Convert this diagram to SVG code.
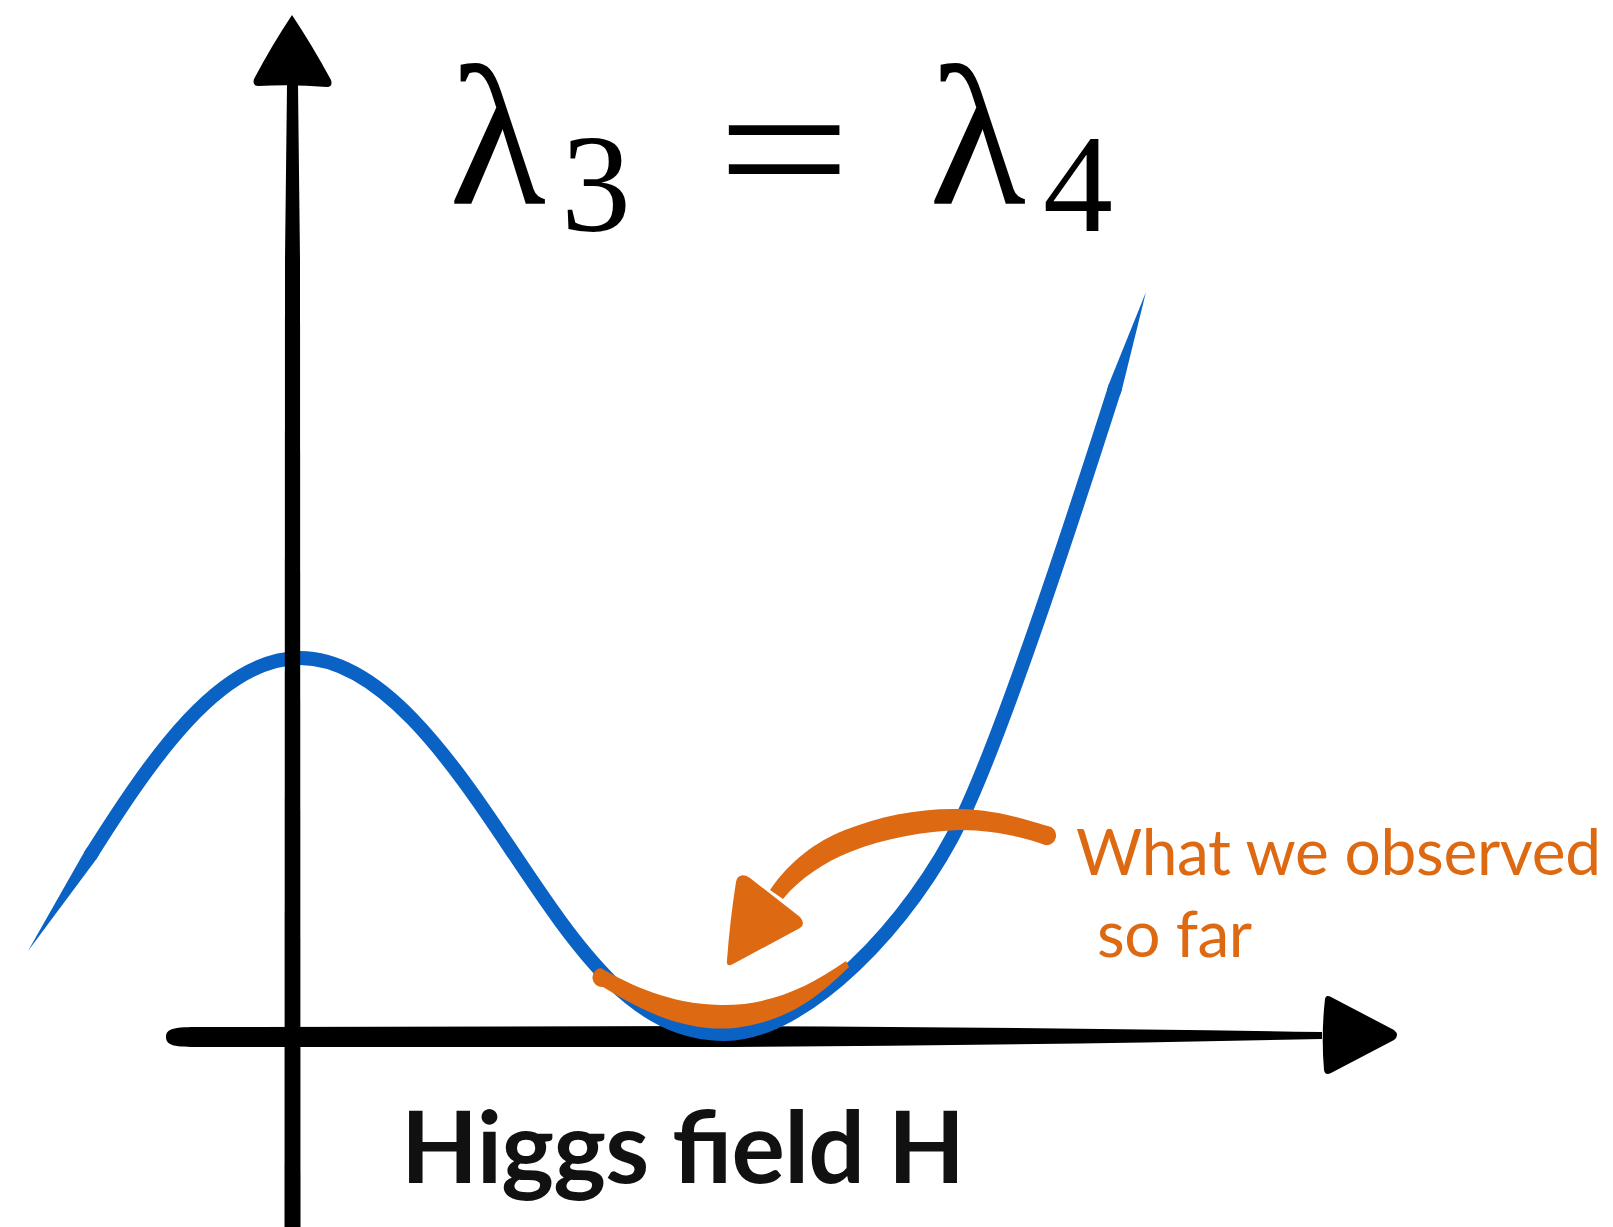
<svg xmlns="http://www.w3.org/2000/svg" width="1613" height="1227" viewBox="0 0 1613 1227">
<style>
.ink{fill:#000}
.blue{fill:none;stroke:#0a62c4;stroke-width:14;stroke-linecap:butt;stroke-linejoin:round}
.bluef{fill:#0a62c4}
.orange{fill:#dd6a12}
.math{font-family:"Liberation Serif","DejaVu Serif",serif;fill:#000}
.note{font-family:Lato,"Liberation Sans",Arial,sans-serif;font-size:64px;fill:#dd6a12}
.axlabel{font-family:Lato,"Liberation Sans",Arial,sans-serif;font-size:100px;font-weight:bold;fill:#111}
</style>
<rect width="1613" height="1227" fill="#fff"/>
<g id="axes">
<path class="ink" d="M166,1037 C166,1028 175,1027 200,1027 L700,1026 Q1000,1027 1322,1032 L1322,1039 Q1000,1046 700,1047 L200,1047 C175,1047 166,1046 166,1037 Z"/>
<path class="ink" d="M1325,999 Q1326,994 1331,997 L1394,1030 Q1400,1035 1394,1040 L1331,1073 Q1325,1076 1324,1070 Q1321,1035 1325,999 Z"/>
</g>
<g id="curve">
<path class="bluef" d="M28,951 L84.1,852.3 L87.3,847.2 L99.1,854.6 L95.9,859.7 Z"/>
<path class="blue" d="M90,856 C151.75,758 220,658 300,658 C380,658 450,758 510,848 C580,953 635,1034 725,1034 C805,1034 912,923 962,818 C1002,734 1069.5,530.3 1115.4,386.7"/>
<path class="bluef" d="M1106.9,390.3 L1108.7,384.6 L1146,292 L1122.1,388.8 L1120.3,394.5 Z"/>
</g>
<g id="yaxis">
<path class="ink" d="M287,85 L298,85 L300,260 L300.5,1227 L284.5,1227 L285,260 Z"/>
<path class="ink" d="M292,15 Q272,45 254,79 Q252,86 258,86 Q292,84 327,87 Q333,87 331,80 Q312,45 292,15 Z"/>
</g>
<g id="title">
<text class="math" x="449" y="203" font-size="200">λ</text>
<text class="math" x="561" y="231" font-size="140">3</text>
<text class="math" x="717" y="214" font-size="195" textLength="134" lengthAdjust="spacingAndGlyphs">=</text>
<text class="math" x="929" y="203" font-size="200">λ</text>
<text class="math" x="1043" y="231" font-size="140">4</text>
</g>
<g id="observed">
<path class="orange" d="M601,968 C630,985 670,1004 720,1005 C765,1006 805,990 846,961 L849,967 C820,995 790,1021 735,1028 C690,1032 650,1016 603,987 A9.5,9.5 0 0 1 601,968 Z"/>
<path class="orange" d="M1048,826 C1030,821 1000,810 960,809 C920,808 880,816 845,830 C815,842 790,861 770,890 L783,899 C800,878 825,862 850,852 C885,838 925,831 960,830 C995,830 1025,838 1045,845 A9.5,9.5 0 0 0 1048,826 Z"/>
<path class="orange" d="M740,876 Q745,874 750,878 L800,917 Q806,924 800,928 L733,964 Q726,968 727,960 Q730,920 736,882 Q737,877 740,876 Z"/>
<text class="note" x="1076" y="875" textLength="525">What we observed</text>
<text class="note" x="1097" y="957" textLength="155">so far</text>
</g>
<g id="xlabel">
<text class="axlabel" x="401" y="1183" textLength="564">Higgs field H</text>
</g>
</svg>
